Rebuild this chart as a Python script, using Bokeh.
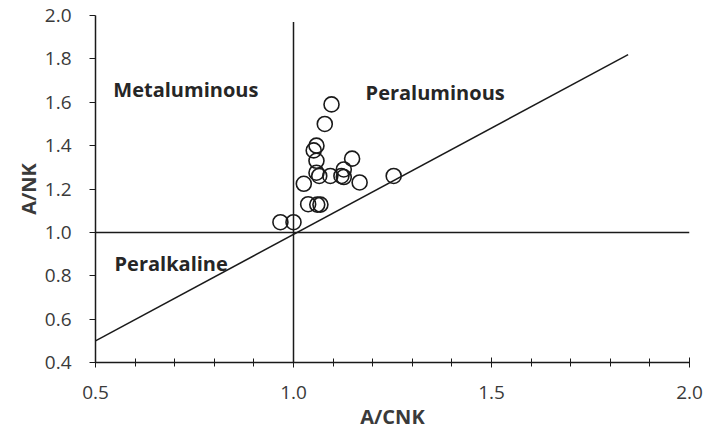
from bokeh.plotting import figure
from bokeh.models import Range1d, SingleIntervalTicker, NumeralTickFormatter, Label
from bokeh.embed import file_html
from bokeh.resources import INLINE

# Sample data (A/CNK vs A/NK)
acnk = [1.096, 1.079, 1.058, 1.051, 1.058, 1.065, 1.058, 1.093, 1.121, 1.127, 1.127,
        1.148, 1.167, 1.253, 1.026, 1.037, 1.060, 1.068, 0.967, 1.000]
anK = [1.59, 1.50, 1.40, 1.378, 1.33, 1.26, 1.275, 1.26, 1.26, 1.29, 1.255,
       1.34, 1.23, 1.26, 1.224, 1.13, 1.128, 1.128, 1.047, 1.047]

# Boundary lines
diag_x = [0.5, 1.845]
diag_y = [0.5, 1.82]
vert_x = [1.0, 1.0]
vert_y = [0.4, 1.97]
horiz_x = [0.5, 2.0]
horiz_y = [1.0, 1.0]

FONT = "Open Sans"
TXT = "#3a3a3a"

p = figure(width=704, height=435, output_backend="svg", toolbar_location=None,
           x_range=Range1d(0.5, 2.0), y_range=Range1d(0.4, 2.0),
           min_border_left=95, min_border_right=15, min_border_top=15, min_border_bottom=73)
p.outline_line_color = None
p.xgrid.visible = False
p.ygrid.visible = False
p.background_fill_color = "white"
p.border_fill_color = "white"

p.line(diag_x, diag_y, line_color="#1a1a1a", line_width=1.5)
p.line(vert_x, vert_y, line_color="#1a1a1a", line_width=1.5)
p.line(horiz_x, horiz_y, line_color="#1a1a1a", line_width=1.5)

p.scatter(acnk, anK, marker="circle", size=15, fill_color=None,
          line_color="#1a1a1a", line_width=1.6)

# x axis
xa = p.xaxis[0]
xa.ticker = SingleIntervalTicker(interval=0.5, num_minor_ticks=5)
xa.formatter = NumeralTickFormatter(format="0.0")
xa.major_tick_in = 5
xa.major_tick_out = 5
xa.minor_tick_in = 4
xa.minor_tick_out = 4
xa.axis_line_color = "#1a1a1a"
xa.major_tick_line_color = "#1a1a1a"
xa.minor_tick_line_color = "#1a1a1a"
xa.axis_line_width = 1.5
xa.major_label_text_font = FONT
xa.major_label_text_font_size = "19px"
xa.major_label_text_color = TXT
xa.major_label_standoff = 18
xa.axis_label = "A/CNK"
xa.axis_label_text_font = FONT
xa.axis_label_text_font_style = "bold"
xa.axis_label_text_font_size = "20px"
xa.axis_label_text_color = TXT
xa.axis_label_standoff = 1

# y axis
ya = p.yaxis[0]
ya.ticker = SingleIntervalTicker(interval=0.2, num_minor_ticks=0)
ya.formatter = NumeralTickFormatter(format="0.0")
ya.major_tick_in = 0
ya.major_tick_out = 6
ya.minor_tick_line_color = None
ya.axis_line_color = "#1a1a1a"
ya.major_tick_line_color = "#1a1a1a"
ya.axis_line_width = 1.5
ya.major_label_text_font = FONT
ya.major_label_text_font_size = "19px"
ya.major_label_text_color = TXT
ya.major_label_standoff = 18
ya.axis_label = "A/NK"
ya.axis_label_text_font = FONT
ya.axis_label_text_font_style = "bold"
ya.axis_label_text_font_size = "20px"
ya.axis_label_text_color = TXT
ya.axis_label_standoff = 0

for txt, x, y in [("Metaluminous", 0.545, 1.659),
                  ("Peraluminous", 1.182, 1.645),
                  ("Peralkaline", 0.548, 0.857)]:
    p.add_layout(Label(x=x, y=y, text=txt, text_font=FONT, text_font_style="bold",
                       text_font_size="20px", text_color="#262626",
                       text_baseline="alphabetic", text_align="left"))

open("out.html", "w").write(file_html(p, INLINE))
